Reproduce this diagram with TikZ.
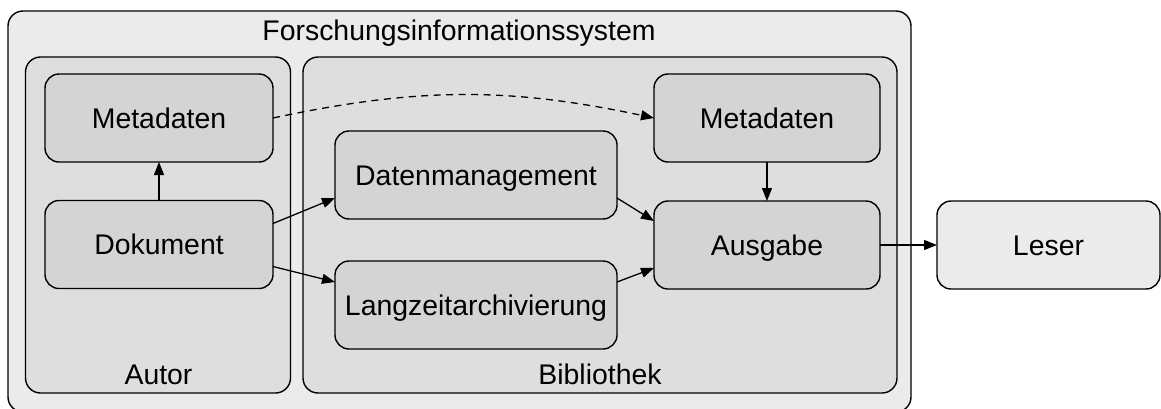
\documentclass[tikz,border=0pt]{standalone}
\usepackage{fontspec}
\setmainfont{Liberation Sans}
\usetikzlibrary{arrows.meta,calc}
\definecolor{outerfill}{HTML}{EBEBEB}
\definecolor{groupfill}{HTML}{DEDEDE}
\definecolor{boxfill}{HTML}{D4D4D4}
\begin{document}
\begin{tikzpicture}[x=1pt,y=-1pt,
  font=\fontsize{28.4}{34}\selectfont,
  every node/.style={inner sep=0pt,outer sep=0pt},
  frame/.style={draw,line width=1.4pt,rounded corners=15pt},
  sysframe/.style={frame,fill=outerfill,minimum width=903pt,minimum height=401pt},
  groupframe/.style={frame,fill=groupfill,minimum height=336pt},
  stepbox/.style={draw,line width=1.4pt,rounded corners=14pt,fill=boxfill,
    minimum height=88pt,text height=20pt,text depth=0pt},
  extbox/.style={stepbox,fill=outerfill},
  label/.style={anchor=base},
  flow/.style={line width=1.3pt,-{Triangle[length=13pt,width=10pt]}},
  hint/.style={flow,dash pattern=on 7pt off 5.5pt}]
\useasboundingbox (0,0) rectangle (1161,408);

% containers (the system frame ends just past the lower page edge)
\node[sysframe] (sys) at (459.5,211.5) {};
\node[groupframe,minimum width=265pt] (autor) at (158,225) {};
\node[groupframe,minimum width=594pt] (bib) at (600,225) {};

% container captions
\node[label] (systitle) at (459,40) {Forschungsinformationssystem};
\node[label] (autortitle) at (158.5,384) {Autor};
\node[label] (bibtitle) at (600,384) {Bibliothek};

% process steps
\node[stepbox,minimum width=228pt] (mdl) at (159,118) {Metadaten};
\node[stepbox,minimum width=228pt] (dok) at (159,244.5) {Dokument};
\node[stepbox,minimum width=282pt] (dm) at (476,175) {Datenmanagement};
\node[stepbox,minimum width=282pt] (lz) at (476,305) {Langzeitarchivierung};
\node[stepbox,minimum width=226pt] (mdr) at (767,118) {Metadaten};
\node[stepbox,minimum width=226pt] (aus) at (767,245) {Ausgabe};
\node[extbox,minimum width=223pt] (les) at (1048.5,245) {Leser};

% connectors
\draw[flow] (dok.north) -- (mdl.south);
\draw[flow] ($(dok.east)+(0,-21)$) -- ($(dm.west)+(0,23)$);
\draw[flow] ($(dok.east)+(0,22)$) -- ($(lz.west)+(0,-23)$);
\draw[flow] ($(dm.east)+(0,23)$) -- ($(aus.west)+(0,-24)$);
\draw[flow] ($(lz.east)+(0,-23)$) -- ($(aus.west)+(0,23)$);
\draw[flow] (mdr.south) -- (aus.north);
\draw[flow] (aus.east) -- (les.west);
\draw[hint] (mdl.east) to[bend left=12] (mdr.west);
\end{tikzpicture}
\end{document}
